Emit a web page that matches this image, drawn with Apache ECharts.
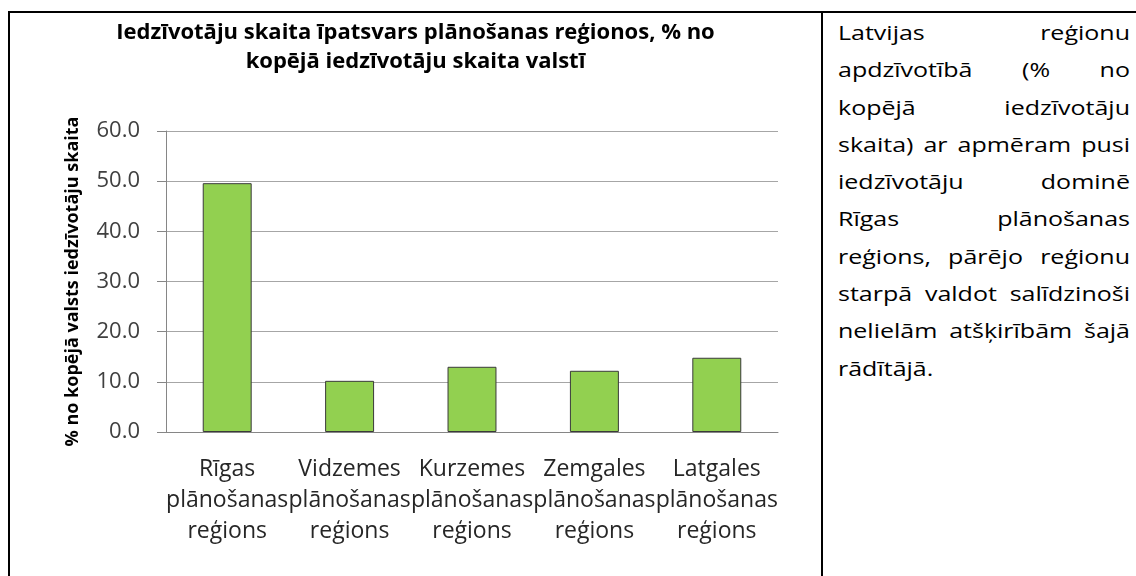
<!DOCTYPE html>
<html>
<head>
<meta charset="utf-8">
<script src="https://cdn.jsdelivr.net/npm/echarts@6/dist/echarts.min.js"></script>
<style>
body { margin:0; background:#fff; width:1136px; height:576px; overflow:hidden; position:relative; font-family:"Open Sans", sans-serif; }
.ln { position:absolute; background:#000; }
#main { position:absolute; left:10px; top:13px; width:811px; height:563px; }
#txt { position:absolute; left:838px; top:14px; width:233.6px; font-size:20px; line-height:37.3px; color:#000;
       transform:scaleX(1.25); transform-origin:0 0; }
#txt div { text-align:justify; text-align-last:justify; white-space:nowrap; }
#txt div.last { text-align:left; text-align-last:left; }
</style>
</head>
<body>
<div class="ln" style="left:8px;top:11px;width:1128px;height:2px"></div>
<div class="ln" style="left:8px;top:11px;width:2px;height:565px"></div>
<div class="ln" style="left:821px;top:11px;width:2px;height:565px"></div>
<div id="main"></div>
<div id="txt">
  <div>Latvijas reģionu</div>
  <div>apdzīvotībā (% no</div>
  <div>kopējā iedzīvotāju</div>
  <div>skaita) ar apmēram pusi</div>
  <div>iedzīvotāju dominē</div>
  <div>Rīgas plānošanas</div>
  <div>reģions, pārējo reģionu</div>
  <div>starpā valdot salīdzinoši</div>
  <div>nelielām atšķirībām šajā</div>
  <div class="last">rādītājā.</div>
</div>
<script>
// dati
var categories = ['Rīgas\nplānošanas\nreģions', 'Vidzemes\nplānošanas\nreģions', 'Kurzemes\nplānošanas\nreģions', 'Zemgales\nplānošanas\nreģions', 'Latgales\nplānošanas\nreģions'];
var shares = [49.6, 10.2, 13.0, 12.2, 14.8];
var chartTitle = 'Iedzīvotāju skaita īpatsvars plānošanas reģionos, % no\nkopējā iedzīvotāju skaita valstī';
var yName = '% no kopējā valsts iedzīvotāju skaita';

var myChart = echarts.init(document.getElementById('main'));

var option = {
	animation : false,
	title : {
		text : chartTitle,
		left : 'center',
		top : 0,
		textStyle : {
			fontFamily : 'Open Sans',
			fontSize : 22,
			fontWeight : 'bold',
			color : '#000',
			lineHeight : 29
		}
	},
	grid : {
		left : 156,
		top : 118,
		width : 612,
		height : 301
	},
	xAxis : {
		type : 'category',
		data : categories,
		axisLine : { lineStyle : { color : '#868686', width : 1 } },
		axisTick : { show : false },
		axisLabel : {
			interval : 0,
			margin : 22,
			fontFamily : 'Open Sans',
			fontSize : 23,
			lineHeight : 31,
			color : '#262626'
		}
	},
	yAxis : {
		type : 'value',
		min : 0,
		max : 60,
		interval : 10,
		name : yName,
		nameLocation : 'middle',
		nameRotate : 90,
		nameGap : 84,
		nameTextStyle : {
			fontFamily : 'Open Sans',
			fontSize : 18,
			fontWeight : 'bold',
			color : '#000'
		},
		axisLine : { show : true, lineStyle : { color : '#868686', width : 1 } },
		axisTick : { show : true, length : 9, lineStyle : { color : '#868686' } },
		splitLine : { lineStyle : { color : '#a6a6a6', width : 1 } },
		axisLabel : {
			margin : 26,
			fontFamily : 'Open Sans',
			fontSize : 22,
			color : '#404040',
			formatter : function(v) { return v.toFixed(1); }
		}
	},
	series : [ {
		type : 'bar',
		data : shares,
		barWidth : '40%',
		itemStyle : {
			color : '#92d050',
			borderColor : '#3a3a3a',
			borderWidth : 1
		}
	} ]
};

myChart.setOption(option);
</script>
</body>
</html>
